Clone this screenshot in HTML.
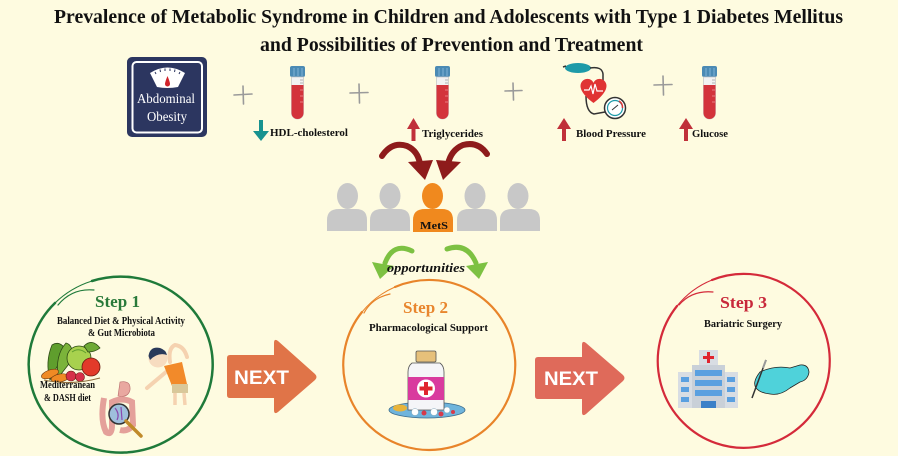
<!DOCTYPE html>
<html><head><meta charset="utf-8">
<style>
html,body{margin:0;padding:0;background:#fefbe0;}
svg{display:block;}
.t{font-family:"Liberation Serif",serif;font-weight:bold;fill:#111;}
</style></head>
<body>
<svg width="898" height="456" viewBox="0 0 898 456" xmlns="http://www.w3.org/2000/svg">
<rect width="898" height="456" fill="#fefbe0"/>

<!-- Title -->
<text class="t" x="54" y="23" font-size="20" textLength="789" lengthAdjust="spacingAndGlyphs">Prevalence of Metabolic Syndrome in Children and Adolescents with Type 1 Diabetes Mellitus</text>
<text class="t" x="260" y="51" font-size="20" textLength="383" lengthAdjust="spacingAndGlyphs">and Possibilities of Prevention and Treatment</text>

<!-- Abdominal obesity box -->
<rect x="127" y="57" width="80" height="80" rx="5" fill="#2c3660"/>
<rect x="132.5" y="62" width="69.5" height="70.5" rx="4" fill="none" stroke="#fff" stroke-width="2"/>
<path d="M150 73 Q167.5 62 185 73 L178 87 Q167.5 89 157 87 Z" fill="#fff"/>
<g stroke="#2c3660" stroke-width="1">
<line x1="155" y1="72" x2="156" y2="74"/><line x1="160" y1="69.5" x2="160.5" y2="72"/><line x1="165" y1="68.5" x2="165" y2="71"/><line x1="170" y1="68.5" x2="170" y2="71"/><line x1="175" y1="69.5" x2="174.5" y2="72"/><line x1="180" y1="72" x2="179" y2="74"/>
</g>
<path d="M167.5 76 Q170 82 170 84 A2.5 2.5 0 0 1 165 84 Q165 82 167.5 76 Z" fill="#d0232a"/>
<text x="137" y="103" font-family="Liberation Serif,serif" font-size="14" fill="#fff" textLength="58" lengthAdjust="spacingAndGlyphs">Abdominal</text>
<text x="147" y="121" font-family="Liberation Serif,serif" font-size="14" fill="#fff" textLength="40" lengthAdjust="spacingAndGlyphs">Obesity</text>

<!-- plus signs -->
<g stroke="#9a9a9a" stroke-width="1.6" stroke-linecap="round">
<line x1="234" y1="95" x2="252" y2="94"/><line x1="243" y1="86" x2="243.5" y2="104"/>
<line x1="350" y1="93" x2="368" y2="92.5"/><line x1="359" y1="84" x2="359.5" y2="103"/>
<line x1="505" y1="91" x2="522" y2="90.5"/><line x1="513" y1="83" x2="513.5" y2="100"/>
<line x1="654" y1="85" x2="672" y2="84.5"/><line x1="663" y1="76" x2="663.5" y2="95"/>
</g>

<!-- tubes -->
<defs>
<g id="tube">
<rect x="0" y="0" width="15" height="11" rx="2" fill="#4b8ab4"/>
<line x1="4" y1="2" x2="4" y2="10" stroke="#7fb3d6" stroke-width="1"/>
<line x1="8" y1="2" x2="8" y2="10" stroke="#7fb3d6" stroke-width="1"/>
<line x1="12" y1="2" x2="12" y2="10" stroke="#7fb3d6" stroke-width="1"/>
<path d="M1.5 11 H13.5 V47 a6 6 0 0 1 -12 0 Z" fill="#f2f2f2" stroke="#c8c8c8" stroke-width="0.8"/>
<path d="M1.5 19 H13.5 V47 a6 6 0 0 1 -12 0 Z" fill="#d3333b"/>
<g stroke="#999" stroke-width="0.7"><line x1="10" y1="14" x2="13" y2="14"/><line x1="10" y1="17" x2="13" y2="17"/></g>
<g stroke="#f3a0a0" stroke-width="0.7"><line x1="10" y1="24" x2="13" y2="24"/><line x1="10" y1="30" x2="13" y2="30"/><line x1="10" y1="36" x2="13" y2="36"/></g>
</g>
</defs>
<use href="#tube" x="290" y="66"/>
<use href="#tube" x="435" y="66"/>
<use href="#tube" x="702" y="66"/>

<!-- blood pressure icon -->
<ellipse cx="578" cy="68" rx="13" ry="5" fill="#1e9aa8"/>
<path d="M563 67 L566 66" stroke="#333" stroke-width="1.5"/>
<path d="M590 68 Q602 66 603 74 L603 82" fill="none" stroke="#333" stroke-width="1.5"/>
<path d="M586 96 Q586 112 594 114 L605 112" fill="none" stroke="#333" stroke-width="1.5"/>
<path d="M593.5 103 C 580 93, 578 85, 583 80.5 C 587 77.5, 592 79, 593.5 83 C 595 79, 600 77.5, 604 80.5 C 609 85, 607 93, 593.5 103 Z" fill="#e03333"/>
<path d="M584 90 H589 L591 86 L593 94 L595 84 L597 91 H603" fill="none" stroke="#fff" stroke-width="1.2"/>
<circle cx="615" cy="108" r="10.5" fill="#fff" stroke="#333" stroke-width="1.5"/>
<circle cx="615" cy="108" r="7.5" fill="none" stroke="#1e9aa8" stroke-width="1.2"/>
<path d="M619 101 A7.5 7.5 0 0 1 622.5 108" fill="none" stroke="#e03333" stroke-width="1.5"/>
<line x1="612" y1="110" x2="618" y2="105" stroke="#333" stroke-width="1"/>

<!-- labels with arrows -->
<g fill="#17928f"><rect x="259" y="120" width="4" height="12"/><polygon points="253,131 269,131 261,141"/></g>
<text class="t" x="270" y="136" font-size="11" textLength="78" lengthAdjust="spacingAndGlyphs">HDL-cholesterol</text>
<g fill="#c0303a">
<polygon points="407,129 420,129 413.5,118"/><rect x="411.5" y="128" width="4" height="13"/>
<polygon points="557,129 571,129 564,118"/><rect x="562" y="128" width="4" height="13"/>
<polygon points="679,129 693,129 686,118"/><rect x="684" y="128" width="4" height="13"/>
</g>
<text class="t" x="422" y="137" font-size="11" textLength="61" lengthAdjust="spacingAndGlyphs">Triglycerides</text>
<text class="t" x="576" y="137" font-size="11" textLength="70" lengthAdjust="spacingAndGlyphs">Blood Pressure</text>
<text class="t" x="692" y="137" font-size="11" textLength="36" lengthAdjust="spacingAndGlyphs">Glucose</text>

<!-- dark red curved arrows -->
<g fill="none" stroke="#8e1b1b" stroke-linecap="round">
<path d="M382 156 Q 392 141 407 146 Q 418 151 420 164" stroke-width="6"/>
<path d="M487 154 Q 478 141 463 145 Q 451 150 448 164" stroke-width="6"/>
</g>
<g fill="#8e1b1b">
<polygon points="408,162 433,160 425,180"/>
<polygon points="436,160 461,162 443,180"/>
</g>

<!-- people -->
<g fill="#c8c8c8">
<ellipse cx="347.5" cy="196" rx="10.5" ry="13"/>
<path d="M327 231 V220 Q327 209 339 209 H356 Q367 209 367 220 V231 Z"/>
<ellipse cx="390" cy="196" rx="10.5" ry="13"/>
<path d="M370 231 V220 Q370 209 382 209 H399 Q410 209 410 220 V231 Z"/>
<ellipse cx="475" cy="196" rx="10.5" ry="13"/>
<path d="M457 231 V220 Q457 209 469 209 H486 Q497 209 497 220 V231 Z"/>
<ellipse cx="518" cy="196" rx="10.5" ry="13"/>
<path d="M500 231 V220 Q500 209 512 209 H529 Q540 209 540 220 V231 Z"/>
</g>
<g fill="#f0891e">
<ellipse cx="432.5" cy="196" rx="10.5" ry="13"/>
<path d="M413 232 V220 Q413 209 425 209 H442 Q453 209 453 220 V232 Z"/>
</g>
<text class="t" x="420" y="229" font-size="11" textLength="28" lengthAdjust="spacingAndGlyphs">MetS</text>

<!-- green arrows -->
<g fill="none" stroke="#7dc142" stroke-linecap="round" stroke-width="5">
<path d="M412 251 Q 393 242 385 263"/>
<path d="M447 249 Q 467 242 476 263"/>
</g>
<g fill="#7dc142">
<polygon points="372,262 394,266 380,279"/>
<polygon points="466,266 488,262 479,279"/>
</g>
<text x="387" y="272" font-family="Liberation Serif,serif" font-weight="bold" font-style="italic" font-size="13" fill="#111" textLength="78" lengthAdjust="spacingAndGlyphs">opportunities</text>

<!-- Step 1 circle -->
<g fill="none" stroke="#1f7a3a" stroke-linecap="round">
<path d="M92 281 A 92 88 0 1 1 55 303" stroke-width="2.5"/>
<path d="M55 303 A 92 88 0 0 1 92 281" stroke-width="1"/>
<path d="M58 305 Q 72 288 94 290" stroke-width="1.2"/>
</g>
<text x="95" y="307" font-family="Liberation Serif,serif" font-weight="bold" font-size="17" fill="#2a7a3a" textLength="45" lengthAdjust="spacingAndGlyphs">Step 1</text>
<text class="t" x="57" y="324" font-size="10" textLength="128" lengthAdjust="spacingAndGlyphs">Balanced Diet &amp; Physical Activity</text>
<text class="t" x="88" y="336" font-size="10" textLength="67" lengthAdjust="spacingAndGlyphs">&amp; Gut Microbiota</text>

<!-- vegetables -->
<g>
<path d="M50 380 Q 45 362 52 345 Q 60 340 66 350 Z" fill="#5f9e2d" stroke="#2d4a14" stroke-width="0.8"/>
<path d="M58 378 Q 55 355 66 343 Q 74 345 72 360 Z" fill="#7bb33a" stroke="#2d4a14" stroke-width="0.8"/>
<circle cx="79" cy="358" r="12" fill="#a8d14e" stroke="#2d4a14" stroke-width="0.8"/>
<path d="M72 352 Q 79 347 86 353" fill="none" stroke="#5f9e2d" stroke-width="1"/>
<path d="M84 346 Q 92 338 100 348 Q 95 352 88 352 Z" fill="#6ea936" stroke="#2d4a14" stroke-width="0.8"/>
<circle cx="91" cy="367" r="9" fill="#e23a2a" stroke="#6b1a10" stroke-width="0.8"/>
<ellipse cx="50" cy="374" rx="9" ry="4" transform="rotate(-20 50 374)" fill="#f08a24" stroke="#6b3a10" stroke-width="0.6"/>
<ellipse cx="60" cy="378" rx="9" ry="4" transform="rotate(-10 60 378)" fill="#f08a24" stroke="#6b3a10" stroke-width="0.6"/>
<circle cx="71" cy="376" r="5" fill="#d6304a" stroke="#6b1a10" stroke-width="0.6"/>
<circle cx="80" cy="377" r="4.5" fill="#d6304a" stroke="#6b1a10" stroke-width="0.6"/>
<path d="M44 380 Q 70 386 100 378" fill="none" stroke="#8a6a3a" stroke-width="1"/>
</g>
<text class="t" x="40" y="388" font-size="10" textLength="55" lengthAdjust="spacingAndGlyphs">Mediterranean</text>
<text class="t" x="44" y="401" font-size="10" textLength="47" lengthAdjust="spacingAndGlyphs">&amp; DASH diet</text>

<!-- kid -->
<g>
<path d="M170 362 Q 168 348 175 345 Q 184 346 187 357" fill="none" stroke="#f5d2b0" stroke-width="4" stroke-linecap="round"/>
<path d="M166 372 L 147 388" stroke="#f5d2b0" stroke-width="4" stroke-linecap="round"/>
<path d="M164 366 L 182 362 L 187 384 L 172 386 Z" fill="#f28a2a"/>
<rect x="172" y="384" width="16" height="9" fill="#d9c89a"/>
<line x1="175" y1="393" x2="175" y2="405" stroke="#f5d2b0" stroke-width="3.5"/>
<line x1="184" y1="393" x2="185" y2="405" stroke="#f5d2b0" stroke-width="3.5"/>
<circle cx="158" cy="358" r="9.5" fill="#f7dcc0"/>
<path d="M148.5 356 Q 150 346 160 348 Q 166 350 167 355 Q 158 352 150 360 Z" fill="#2a3a5a"/>
</g>

<!-- intestine -->
<g>
<path d="M120 382 Q 131 380 130 390 Q 128 398 118 396 Z" fill="#e9a8a0" stroke="#b76a6a" stroke-width="0.6"/>
<path d="M104 398 Q 100 420 106 432 Q 112 436 112 425 L 112 402 Q 122 397 132 402 L 133 425 Q 128 432 120 430" fill="none" stroke="#e4a09a" stroke-width="6"/>
<circle cx="119" cy="414" r="10" fill="#9fbfdc" stroke="#333" stroke-width="1.5"/>
<path d="M115 408 Q 120 414 117 420 M121 407 L 122 420" stroke="#8a4ab0" stroke-width="1.2" fill="none"/>
<line x1="126" y1="421" x2="141" y2="436" stroke="#c08a2a" stroke-width="3.5" stroke-linecap="round"/>
</g>

<!-- NEXT arrow 1 -->
<path d="M230 355 H274 V343 Q274 338 278 341 L315 374 Q318 377 315 380 L278 412 Q274 415 274 410 V398 H230 Q227 398 227 395 V358 Q227 355 230 355 Z" fill="#e07448"/>
<text x="234" y="384" font-family="Liberation Sans,sans-serif" font-weight="bold" font-size="19" fill="#fff" textLength="55" lengthAdjust="spacingAndGlyphs">NEXT</text>

<!-- Step 2 circle -->
<g fill="none" stroke="#e8842a" stroke-linecap="round">
<path d="M395 287 A 86 85 0 1 1 362 312" stroke-width="2.2"/>
<path d="M362 312 A 86 85 0 0 1 395 287" stroke-width="1"/>
<path d="M364 313 Q 372 298 390 294" stroke-width="1.2"/>
</g>
<text x="403" y="313" font-family="Liberation Serif,serif" font-weight="bold" font-size="17" fill="#e8862e" textLength="45" lengthAdjust="spacingAndGlyphs">Step 2</text>
<text class="t" x="369" y="331" font-size="10.5" textLength="119" lengthAdjust="spacingAndGlyphs">Pharmacological Support</text>

<!-- pill bottle -->
<ellipse cx="427" cy="410" rx="38" ry="8" fill="#6fb4dc" stroke="#3a6a8a" stroke-width="0.8"/>
<ellipse cx="400" cy="408" rx="7" ry="3.5" fill="#e8b43a"/>
<rect x="416" y="351" width="20" height="11" rx="1.5" fill="#e6c07a" stroke="#555" stroke-width="0.8"/>
<path d="M412 363 H440 Q444 366 444 372 V410 H408 V372 Q408 366 412 363 Z" fill="#f5f5f8" stroke="#555" stroke-width="0.8"/>
<rect x="408" y="377" width="36" height="23" fill="#d93a9e"/>
<circle cx="426" cy="388.5" r="9" fill="#fff"/>
<rect x="424" y="382" width="4" height="13" fill="#e0252e"/>
<rect x="419.5" y="386.5" width="13" height="4" fill="#e0252e"/>
<g fill="#fff" stroke="#8ab" stroke-width="0.5">
<circle cx="415" cy="412" r="3.5"/><circle cx="434" cy="412" r="3.5"/><circle cx="447" cy="410" r="3"/>
</g>
<g fill="#d63a4a"><circle cx="424" cy="413" r="2.5"/><circle cx="441" cy="414" r="2.5"/><circle cx="453" cy="412" r="2"/></g>

<!-- NEXT arrow 2 -->
<path d="M538 357 H582 V345 Q582 340 586 343 L623 375 Q626 378 623 381 L586 414 Q582 417 582 412 V399 H538 Q535 399 535 396 V360 Q535 357 538 357 Z" fill="#df6a5a"/>
<text x="544" y="385" font-family="Liberation Sans,sans-serif" font-weight="bold" font-size="19" fill="#fff" textLength="54" lengthAdjust="spacingAndGlyphs">NEXT</text>

<!-- Step 3 circle -->
<g fill="none" stroke="#d42a3a" stroke-linecap="round">
<path d="M712 280 A 86 87 0 1 1 677 306" stroke-width="2.2"/>
<path d="M677 306 A 86 87 0 0 1 712 280" stroke-width="1"/>
<path d="M679 305 Q 692 290 713 292" stroke-width="1.2"/>
</g>
<text x="720" y="308" font-family="Liberation Serif,serif" font-weight="bold" font-size="17" fill="#c8283a" textLength="47" lengthAdjust="spacingAndGlyphs">Step 3</text>
<text class="t" x="704" y="327" font-size="10.5" textLength="78" lengthAdjust="spacingAndGlyphs">Bariatric Surgery</text>

<!-- hospital -->
<rect x="699" y="350" width="19" height="15" fill="#d8dde3"/>
<rect x="707" y="352" width="3" height="11" fill="#e0252e"/>
<rect x="703" y="356" width="11" height="3" fill="#e0252e"/>
<rect x="678" y="372" width="60" height="36" fill="#d8dde3"/>
<rect x="692" y="365" width="33" height="43" fill="#c9d0d8"/>
<g fill="#5aa0e0">
<rect x="681" y="377" width="8" height="5"/><rect x="681" y="387" width="8" height="5"/><rect x="681" y="397" width="8" height="5"/>
<rect x="727" y="377" width="8" height="5"/><rect x="727" y="387" width="8" height="5"/><rect x="727" y="397" width="8" height="5"/>
<rect x="695" y="370" width="27" height="6"/><rect x="695" y="380" width="27" height="6"/><rect x="695" y="390" width="27" height="6"/>
</g>
<rect x="701" y="401" width="15" height="7" fill="#3a80c8"/>

<!-- gloved hand with scalpel -->
<path d="M760 372 Q 775 365 790 368 L 800 365 Q 808 364 809 372 Q 808 380 800 382 L 790 388 Q 780 396 770 394 Q 760 393 756 388 Q 752 382 760 372 Z" fill="#4fd2da" stroke="#222" stroke-width="0.8"/>
<line x1="766" y1="360" x2="752" y2="398" stroke="#333" stroke-width="1.5"/>
<line x1="766" y1="360" x2="763" y2="368" stroke="#999" stroke-width="2"/>
</svg>
</body></html>
